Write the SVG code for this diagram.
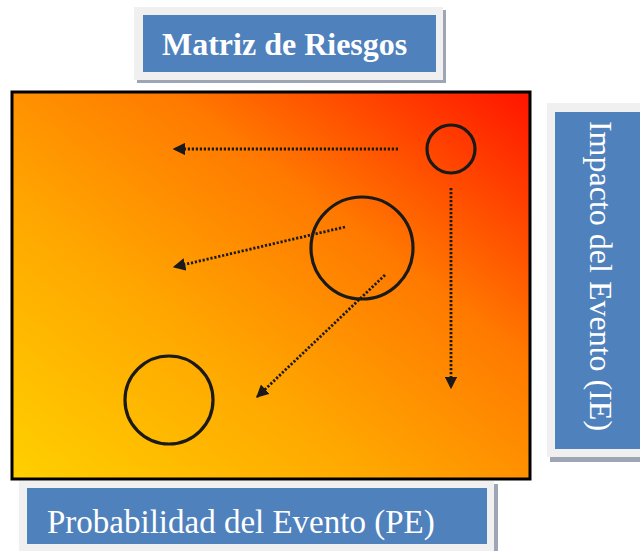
<svg xmlns="http://www.w3.org/2000/svg" width="640" height="551" viewBox="0 0 640 551">
<defs>
<linearGradient id="heat" x1="0" y1="1" x2="1" y2="0">
<stop offset="0" stop-color="#ffd000"/>
<stop offset="0.35" stop-color="#ffa800"/>
<stop offset="0.65" stop-color="#ff7a00"/>
<stop offset="1" stop-color="#ff1400"/>
</linearGradient>
<marker id="ah" viewBox="0 0 10 10" refX="9" refY="5" markerWidth="4.5" markerHeight="4.5" markerUnits="strokeWidth" orient="auto">
<path d="M0,0 L10,5 L0,10 z" fill="#1a1a1a"/>
</marker>
<style>
.frame{fill:#f0f0f0}
.shadow{fill:#9ea6b6}
.blue{fill:#4f81bd}
.lbl{font-family:"Liberation Serif","Times New Roman",serif;fill:#ffffff}
.ring{fill:none;stroke:#1a1a1a;stroke-width:3.2}
.flow{fill:none;stroke:#1a1a1a;stroke-width:2.8;stroke-dasharray:2.2 1.8;marker-end:url(#ah)}
</style>
</defs>
<g id="matrix">
<rect x="12" y="92" width="518" height="387" fill="url(#heat)" stroke="#000" stroke-width="3"/>
</g>
<g id="title">
<rect class="shadow" x="137" y="10" width="309" height="73"/>
<rect class="frame" x="134" y="7" width="309" height="73"/>
<rect class="blue" x="143" y="15" width="293" height="57"/>
<text class="lbl" x="162" y="55" font-size="32" font-weight="bold">Matriz de Riesgos</text>
</g>
<g id="impacto">
<rect class="shadow" x="550" y="106" width="95" height="356"/>
<rect class="frame" x="547" y="103" width="95" height="354"/>
<rect class="blue" x="555" y="112" width="90" height="337"/>
<text class="lbl" transform="translate(590,276) rotate(90)" text-anchor="middle" font-size="32">Impacto del Evento (IE)</text>
</g>
<g id="probabilidad">
<rect class="shadow" x="22" y="484" width="476" height="75"/>
<rect class="frame" x="19" y="481" width="475" height="75"/>
<rect class="blue" x="27" y="488" width="460" height="56"/>
<text class="lbl" x="47" y="533" font-size="33">Probabilidad del Evento (PE)</text>
</g>
<g id="riesgo-alto">
<circle class="ring" cx="451" cy="149" r="24"/>
</g>
<g id="riesgo-medio">
<circle class="ring" cx="362" cy="248" r="51"/>
</g>
<g id="riesgo-bajo">
<circle class="ring" cx="169" cy="400" r="44"/>
</g>
<g id="connectors">
<path class="flow" d="M398,149 L174,149"/>
<path class="flow" d="M345,227 L174,267"/>
<path class="flow" d="M385,275 L257,397"/>
<path class="flow" d="M451,188 L451,388"/>
</g>
</svg>
